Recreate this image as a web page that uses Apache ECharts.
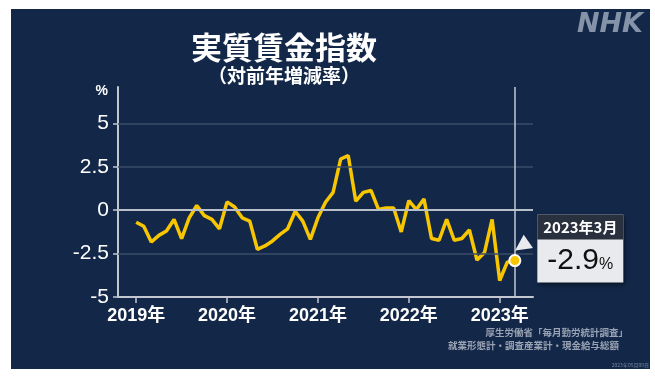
<!DOCTYPE html>
<html>
<head>
<meta charset="utf-8">
<script src="https://cdn.jsdelivr.net/npm/echarts@6/dist/echarts.min.js"></script>
<style>
  body { margin: 0; background: #fff; }
  #bg { position: absolute; left: 11px; top: 9px; width: 639px; height: 360px; background: #132849; }
  #chart { position: absolute; left: 0; top: 0; width: 655px; height: 376px; }
</style>
</head>
<body>
<div id="bg"></div>
<div id="chart"></div>
<script>
// 実質賃金指数（対前年増減率）2019年1月〜2023年3月
const years = ["2019年", "2020年", "2021年", "2022年", "2023年"];
const yTicks = [-5, -2.5, 0, 2.5, 5];
const values = [
  -0.69, -0.92, -1.83, -1.45, -1.2, -0.53, -1.64, -0.44, 0.27, -0.31, -0.53, -1.07,
  0.48, 0.19, -0.44, -0.63, -2.25, -2.06, -1.77, -1.39, -1.07, -0.06, -0.63, -1.68,
  -0.44, 0.46, 1.03, 2.95, 3.15, 0.52, 1.03, 1.14, 0.05, 0.13, 0.13, -1.25,
  0.55, 0.04, 0.65, -1.63, -1.73, -0.53, -1.73, -1.63, -1.14, -2.87, -2.43, -0.53,
  -4.05, -3.0, -2.9
];
const lastLabel = "2023年3月";

const jp = "'Noto Sans CJK JP', sans-serif";
const latin = "'Liberation Sans', 'Noto Sans CJK JP', sans-serif";
const axisGray = "#c3c8d0";
const faint = "#3a4c69";
const boxGray = "#e8eaed";

const lastIndex = values.length - 1;
const lastPoint = [lastIndex, values[lastIndex]];
const yearTicks = years.map((y, i) => i * 12);

const chart = echarts.init(document.getElementById("chart"));
chart.setOption({
  animation: false,
  backgroundColor: "transparent",
  title: {
    text: "実質賃金指数",
    subtext: "（対前年増減率）",
    left: 279,
    top: 27,
    textAlign: "center",
    itemGap: 3,
    textStyle: { fontFamily: jp, fontSize: 31, fontWeight: "bold", color: "#fff" },
    subtextStyle: { fontFamily: jp, fontSize: 19, fontWeight: "bold", color: "#fff" }
  },
  grid: { left: 118, right: 122, top: 87, bottom: 79 },
  xAxis: {
    type: "value",
    min: -2.4,
    max: 52.4,
    axisLine: { onZero: false, lineStyle: { color: axisGray, width: 2 } },
    axisTick: { customValues: yearTicks, length: 6, lineStyle: { color: axisGray, width: 1.5 } },
    axisLabel: {
      customValues: yearTicks,
      formatter: v => years[Math.round(v / 12)],
      color: "#fff",
      fontFamily: latin,
      fontSize: 18,
      fontWeight: "bold",
      margin: 10
    },
    splitLine: { show: false }
  },
  yAxis: {
    type: "value",
    min: -5,
    max: 7.1,
    name: "%",
    nameLocation: "end",
    nameGap: -4,
    nameTextStyle: {
      color: "#fff", fontFamily: latin, fontSize: 14, fontWeight: "bold",
      align: "right", verticalAlign: "middle", padding: [0, 10, 0, 0]
    },
    axisLine: { show: true, onZero: false, lineStyle: { color: axisGray, width: 2 } },
    axisTick: { show: true, customValues: yTicks, length: 5, lineStyle: { color: axisGray, width: 1.5 } },
    axisLabel: {
      customValues: yTicks,
      formatter: v => String(v),
      color: "#fff",
      fontFamily: latin,
      fontSize: 21,
      margin: 9
    },
    splitLine: { show: false }
  },
  series: [
    {
      type: "line",
      data: [],
      z: 1,
      markLine: {
        silent: true,
        symbol: ["none", "none"],
        label: { show: false },
        data: [
          { yAxis: 5, lineStyle: { color: faint, width: 1.5, type: "solid" } },
          { yAxis: 2.5, lineStyle: { color: faint, width: 1.5, type: "solid" } },
          { yAxis: -2.5, lineStyle: { color: faint, width: 1.5, type: "solid" } },
          { yAxis: 0, lineStyle: { color: "#b9bfc9", width: 2, type: "solid" } },
          { xAxis: lastIndex, lineStyle: { color: axisGray, width: 1.5, type: "solid" } }
        ]
      }
    },
    {
      type: "line",
      z: 3,
      data: values.map((v, i) => [i, v]),
      showSymbol: false,
      lineStyle: { color: "#f7c600", width: 3.5 }
    },
    {
      // callout pointer (drawn as a glyph label)
      type: "scatter",
      z: 6,
      silent: true,
      clip: false,
      data: [lastPoint],
      symbolSize: 1,
      itemStyle: { color: "#f7c600", opacity: 1 },
      label: {
        show: true,
        position: "inside",
        offset: [14, -8],
        rotate: 35,
        formatter: "◀",
        color: boxGray,
        fontFamily: "'DejaVu Sans'",
        fontSize: 21,
        align: "center",
        verticalAlign: "middle"
      }
    },
    {
      type: "scatter",
      z: 5,
      data: [lastPoint],
      symbolSize: 11,
      itemStyle: { color: "#f7c600", borderColor: "#fff", borderWidth: 2, opacity: 1 },
      label: {
        show: true,
        position: "right",
        distance: 16,
        offset: [0, -12],
        backgroundColor: boxGray,
        shadowColor: "rgba(0,0,0,0.45)",
        shadowBlur: 4,
        shadowOffsetX: 2,
        shadowOffsetY: 2,
        formatter: p => "{h|" + lastLabel + "}\n{v|" + p.value[1].toFixed(1) + "}{p|%}",
        rich: {
          h: {
            width: 86, height: 25, align: "center", backgroundColor: "#28313d",
            color: "#fff", fontFamily: jp, fontSize: 15, fontWeight: "bold"
          },
          v: { height: 35, align: "center", color: "#111", fontFamily: latin, fontSize: 30 },
          p: { height: 35, align: "center", color: "#111", fontFamily: latin, fontSize: 16, padding: [8, 0, 0, 0] }
        }
      }
    }
  ],
  graphic: [
    {
      type: "text", right: 12, top: 11,
      style: { text: "NHK", fill: "#8593a8", font: "italic bold 27px 'DejaVu Sans'" }
    },
    {
      type: "text", right: 27, top: 328,
      style: { text: "厚生労働省「毎月勤労統計調査」", fill: "#9aa3b3", font: "bold 9.5px 'Noto Sans CJK JP'" }
    },
    {
      type: "text", right: 36, top: 341,
      style: { text: "就業形態計・調査産業計・現金給与総額", fill: "#9aa3b3", font: "bold 9.5px 'Noto Sans CJK JP'" }
    },
    {
      type: "text", right: 6, top: 363,
      style: { text: "2023年05月09日", fill: "#76829a", font: "5px 'Noto Sans CJK JP'" }
    }
  ]
});
</script>
</body>
</html>
